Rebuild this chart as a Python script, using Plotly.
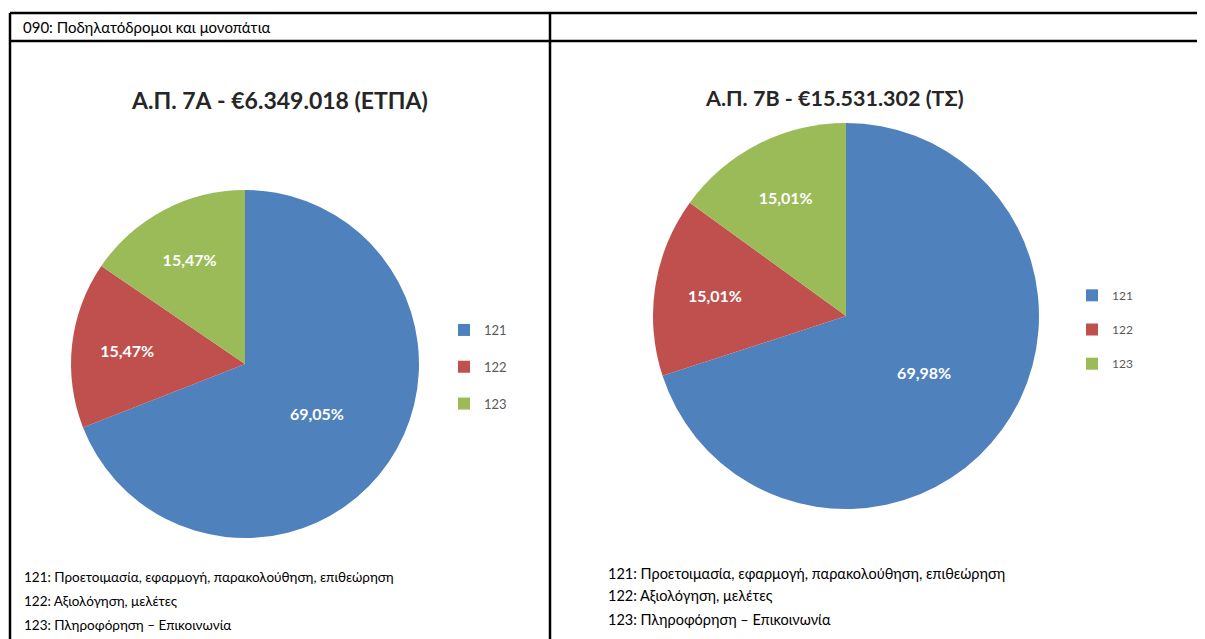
import plotly.graph_objects as go

# the page body has an 8px margin, so the figure is a bit smaller than the window
OFF = 8
W, H = 1205 - OFF, 639 - OFF

# data
categories = ["121", "122", "123"]
share_7a = [69.05, 15.47, 15.47]
share_7b = [69.98, 15.01, 15.01]
colors = ["#4F81BD", "#C0504D", "#9BBB59"]

header = "090: Ποδηλατόδρομοι και μονοπάτια"
title_7a = "Α.Π. 7Α - €6.349.018 (ΕΤΠΑ)"
title_7b = "Α.Π. 7Β - €15.531.302 (ΤΣ)"
notes = [
    "121: Προετοιμασία, εφαρμογή, παρακολούθηση, επιθεώρηση",
    "122: Αξιολόγηση, μελέτες",
    "123: Πληροφόρηση – Επικοινωνία",
]

FONT = "Lato"


def px_x(x):
    return (x - OFF) / W


def px_y(y):
    return 1 - (y - OFF) / H


def make_pie(values, box, legend, pad):
    x0, y0, x1, y1 = box
    return go.Pie(
        # second line keeps legend rows apart; pad keeps the two legends separate
        labels=[c + "<br>" + pad for c in categories],
        values=values,
        sort=False,
        direction="clockwise",
        rotation=0,
        marker=dict(colors=colors, line=dict(width=0)),
        texttemplate="%{value:.2f}%",
        textposition="inside",
        insidetextorientation="horizontal",
        textfont=dict(family=FONT, size=16, color="white", weight="bold"),
        domain=dict(x=[px_x(x0), px_x(x1)], y=[px_y(y1), px_y(y0)]),
        legend=legend,
        hoverinfo="label+value",
    )


fig = go.Figure()
fig.add_trace(make_pie(share_7a, (71, 190, 419, 538), "legend", " "))
fig.add_trace(make_pie(share_7b, (653, 123, 1039, 509), "legend2", "  "))

# table borders
lines = [
    (10, 13, 1205, 13),
    (10, 41, 1205, 41),
    (10, 13, 10, 639),
    (550, 13, 550, 639),
]
shapes = [
    dict(type="line", xref="paper", yref="paper",
         x0=px_x(a), y0=px_y(b), x1=px_x(c), y1=px_y(d),
         line=dict(color="black", width=2.5))
    for a, b, c, d in lines
]

annotations = [
    dict(text=header, x=px_x(21), y=px_y(27), xanchor="left", yanchor="middle",
         font=dict(family=FONT, size=15, color="black")),
    dict(text=title_7a, x=px_x(279), y=px_y(100), xanchor="center", yanchor="middle",
         font=dict(family=FONT, size=23, color="#262626", weight="bold")),
    dict(text=title_7b, x=px_x(834), y=px_y(98), xanchor="center", yanchor="middle",
         font=dict(family=FONT, size=21.5, color="#262626", weight="bold")),
]
for i, n in enumerate(notes):
    annotations.append(dict(text=n, x=px_x(22), y=px_y(577 + 24 * i), xanchor="left",
                            yanchor="middle", font=dict(family=FONT, size=13.5, color="black")))
    annotations.append(dict(text=n, x=px_x(606), y=px_y(573 + 23 * i), xanchor="left",
                            yanchor="middle", font=dict(family=FONT, size=14.5, color="black")))
for a in annotations:
    a.update(xref="paper", yref="paper", showarrow=False)

legend_style = dict(bgcolor="rgba(0,0,0,0)", valign="top", itemclick=False,
                    xanchor="left", yanchor="top")

fig.update_layout(
    width=W,
    height=H,
    margin=dict(l=0, r=0, t=0, b=0),
    paper_bgcolor="white",
    plot_bgcolor="white",
    separators=",.",
    shapes=shapes,
    annotations=annotations,
    legend=dict(x=px_x(444), y=px_y(315),
                font=dict(family=FONT, size=13, color="#595959"), **legend_style),
    legend2=dict(x=px_x(1072), y=px_y(281),
                 font=dict(family=FONT, size=12, color="#595959"), **legend_style),
    showlegend=True,
)

fig.write_html("out.html")
